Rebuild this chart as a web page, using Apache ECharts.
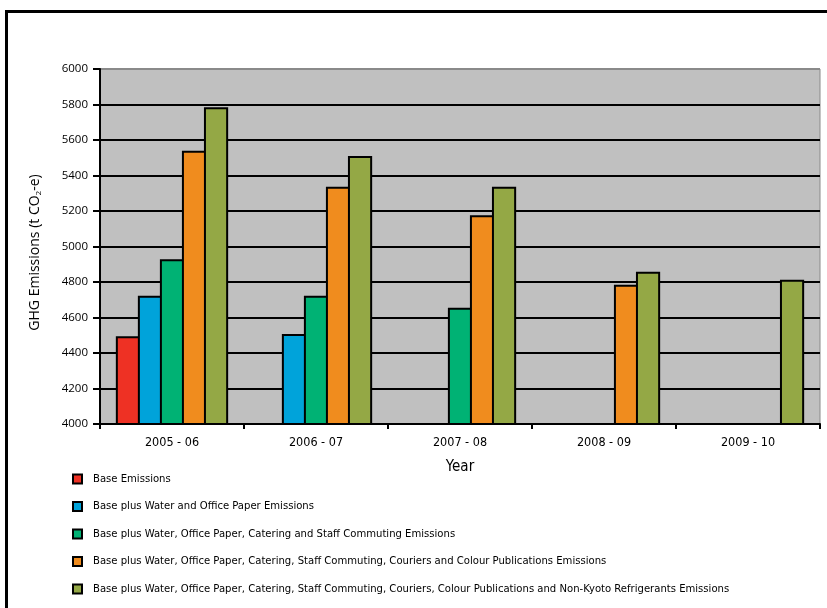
<!DOCTYPE html>
<html>
<head>
<meta charset="utf-8">
<script src="https://cdn.jsdelivr.net/npm/echarts@6/dist/echarts.min.js"></script>
<style>html,body{margin:0;padding:0;background:#fff;}#c{width:827px;height:608px;}</style>
</head>
<body>
<div id="c"></div>
<script>
const categories = ['2005 - 06', '2006 - 07', '2007 - 08', '2008 - 09', '2009 - 10'];
const seriesNames = [
  'Base Emissions',
  'Base plus Water and Office Paper Emissions',
  'Base plus Water, Office Paper, Catering and Staff Commuting Emissions',
  'Base plus Water, Office Paper, Catering, Staff Commuting, Couriers and Colour Publications Emissions',
  'Base plus Water, Office Paper, Catering, Staff Commuting, Couriers, Colour Publications and Non-Kyoto Refrigerants Emissions'
];
const baseEmissions = [4495, null, null, null, null];
const waterPaper = [4723, 4507, null, null, null];
const cateringCommuting = [4928, 4723, 4655, null, null];
const couriersPublications = [5540, 5337, 5176, 4785, null];
const refrigerants = [5784, 5510, 5337, 4858, 4813];
const colors = ['#EE3124', '#00A3DA', '#00B274', '#F08C1E', '#94A845'];

const condensed = "'Liberation Sans Narrow', 'DejaVu Sans Condensed', sans-serif";
const seriesData = [baseEmissions, waterPaper, cateringCommuting, couriersPublications, refrigerants];

const gridColors = ['#000','#000','#000','#000','#000','#000','#000','#000','#000','#000','#8a8a8a'];

const chart = echarts.init(document.getElementById('c'));
chart.setOption({
  animation: false,
  backgroundColor: '#fff',
  graphic: [{
    type: 'rect',
    shape: { x: 6.5, y: 11.5, width: 1000, height: 1000 },
    style: { fill: 'none', stroke: '#000', lineWidth: 3 },
    silent: true
  }],
  grid: {
    left: 100, right: 7, top: 69, bottom: 184,
    show: true, backgroundColor: '#C0C0C0', borderColor: '#8a8a8a', borderWidth: 1
  },
  legend: {
    orient: 'vertical',
    left: 72,
    top: 472,
    padding: 0,
    itemWidth: 9,
    itemHeight: 9,
    itemGap: 13.5,
    icon: 'rect',
    data: seriesNames,
    textStyle: { fontFamily: condensed, fontSize: 11.2, color: '#000', padding: [0, 0, 0, 6], lineHeight: 14 }
  },
  xAxis: {
    type: 'category',
    data: categories,
    name: 'Year',
    nameLocation: 'middle',
    nameGap: 36,
    nameTextStyle: { fontFamily: condensed, fontSize: 15, color: '#000' },
    axisLine: { lineStyle: { color: '#000', width: 2 } },
    axisTick: { show: true, length: 5, lineStyle: { color: '#000', width: 2 } },
    axisLabel: { fontFamily: condensed, fontSize: 12.5, color: '#000', margin: 12 },
    splitLine: { show: false }
  },
  yAxis: {
    type: 'value',
    min: 4000,
    max: 6000,
    interval: 200,
    name: '{n|GHG Emissions (t CO}{s|2}{n|-e)}',
    nameLocation: 'middle',
    nameGap: 57,
    nameRotate: 90,
    nameTextStyle: {
      padding: [0, 12, 0, 0],
      rich: {
        n: { fontFamily: "'Open Sans', sans-serif", fontSize: 14, color: '#000' },
        s: { fontFamily: "'Open Sans', sans-serif", fontSize: 8, color: '#000', verticalAlign: 'bottom', padding: [8, 0, 0, 0] }
      }
    },
    axisLine: { show: true, lineStyle: { color: '#000', width: 2 } },
    axisTick: { show: true, length: 7, lineStyle: { color: '#000', width: 2 } },
    axisLabel: { fontFamily: "'Open Sans', sans-serif", fontSize: 11.5, color: '#000', margin: 12, formatter: v => String(v) },
    splitLine: { show: true, lineStyle: { color: gridColors, width: 2 } }
  },
  series: seriesNames.map((name, i) => ({
    name: name,
    type: 'bar',
    data: seriesData[i],
    barGap: '-9%',
    barCategoryGap: '22%',
    itemStyle: { color: colors[i], borderColor: '#000', borderWidth: 2 }
  }))
});
</script>
</body>
</html>
